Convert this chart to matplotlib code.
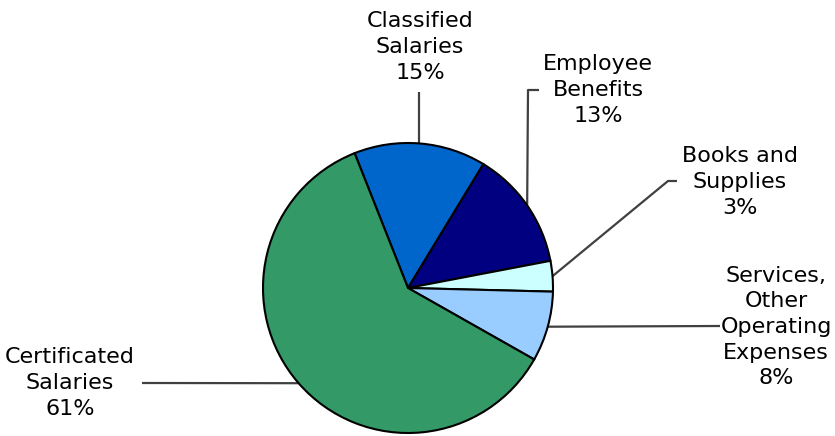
import numpy as np
import matplotlib.pyplot as plt

# data (clockwise from top)
labels = ["Classified\nSalaries", "Employee\nBenefits", "Books and\nSupplies",
          "Services,\nOther\nOperating\nExpenses", "Certificated\nSalaries"]
shares = [14.7, 13.3, 3.4, 7.8, 60.8]
colors = ["#0066CC", "#000080", "#CCFFFF", "#99CCFF", "#339966"]

W, H = 835, 436
cx, cy, r = 408, 288, 145  # pie centre / radius in pixels (y down)
start = 111.6

# label block centres and leader elbows (pixels, y down)
text_pos = [(420, 47), (598, 90), (740, 182), (776, 327), (70, 383)]
elbows = [[(419, 92)],
          [(528, 90), (539, 90)],
          [(668, 181), (677, 181)],
          [(720, 326)],
          [(142, 383)]]

fig = plt.figure(figsize=(W / 100, H / 100), dpi=100)
ax = fig.add_axes([0, 0, 1, 1])

wedges, _ = ax.pie(shares, colors=colors, startangle=start, counterclock=False,
                   center=(cx, H - cy), radius=r, frame=True,
                   wedgeprops=dict(edgecolor="black", linewidth=1.5))
ax.set_xlim(0, W)
ax.set_ylim(0, H)
ax.set_aspect("equal")
ax.axis("off")

total = sum(shares)
for w, lab, v, tp, el in zip(wedges, labels, shares, text_pos, elbows):
    mid = np.deg2rad((w.theta1 + w.theta2) / 2)
    ax_, ay_ = cx + r * np.cos(mid), (H - cy) + r * np.sin(mid)
    if len(el) == 1 and abs(el[0][0] - ax_) < 3:
        ax_ = el[0][0]
    xs = [ax_] + [p[0] for p in el]
    ys = [ay_] + [H - p[1] for p in el]
    ax.plot(xs, ys, color="#404040", lw=1.6, zorder=0.5, solid_capstyle="butt")
    pct = round(v / total * 100)
    ax.text(tp[0], H - tp[1], f"{lab}\n{pct}%", ha="center", va="center",
            multialignment="center", fontsize=16, linespacing=1.35,
            family="DejaVu Sans", color="black")

fig.savefig("out.png", dpi=100)
